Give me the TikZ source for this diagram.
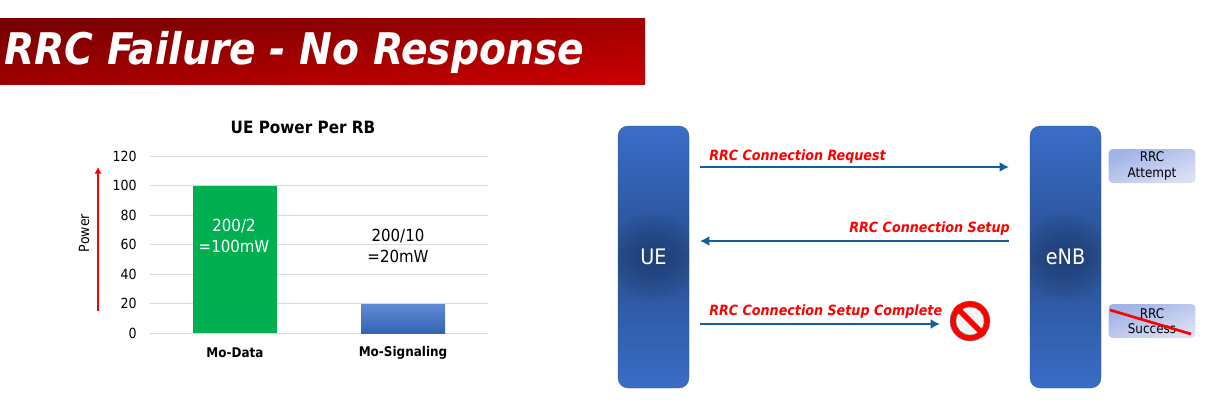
\documentclass[tikz,border=0pt]{standalone}
\usepackage{fontspec}
\setmainfont{DejaVu Sans Condensed}
\usetikzlibrary{arrows.meta}
\definecolor{barblue}{RGB}{58,109,200}
\definecolor{barmid}{RGB}{41,80,145}
\definecolor{bardark}{RGB}{30,58,106}
\definecolor{msgblue}{RGB}{20,95,155}
\definecolor{gridgray}{RGB}{217,217,217}
\definecolor{chartgreen}{RGB}{0,176,80}
\definecolor{countleft}{RGB}{160,178,230}
\definecolor{countright}{RGB}{218,224,244}
\tikzset{
  entity/.style={rectangle, rounded corners=7.5pt, draw=bardark!90, very thin, top color=barblue, bottom color=barblue, middle color=barmid,
    path picture={\foreach \rad in {3,6,...,33} \fill[bardark, opacity=.08] (path picture bounding box.center) circle (\rad pt);},
    minimum width=53.25pt, minimum height=196.5pt, text=white, font=\fontsize{16}{16}\selectfont, inner sep=0pt},
  counter/.style={rectangle, rounded corners=3pt, top color=countleft, bottom color=countright, shading angle=21,
    minimum width=65pt, minimum height=25.5pt, font=\fontsize{10}{11.5}\selectfont, align=center, inner sep=0pt},
  msg/.style={draw=msgblue, line width=2pt, -{Latex[length=7pt,width=7.5pt]}},
  msglabel/.style={text=red, font=\fontsize{10.6}{10.6}\selectfont\bfseries\itshape, inner sep=0pt},
  tick/.style={font=\fontsize{10.5}{10.5}\selectfont, anchor=east, inner sep=0pt},
}
\begin{document}
\begin{tikzpicture}[x=0.75pt, y=-0.75pt]
\useasboundingbox (0,0) rectangle (1212,407);

% title
\shade[top color=red!47!black, bottom color=red!78!black, shading angle=6] (0,18) rectangle (645,84);
\node[text=white, anchor=west, inner sep=0pt, font=\fontsize{32.7}{32.7}\selectfont\itshape\bfseries] (title) at (4,52) {RRC Failure - No Response};

% chart
\node[font=\fontsize{12.7}{12.7}\selectfont\bfseries, inner sep=0pt] (charttitle) at (303,127) {UE Power Per RB};
\foreach \val/\ypos in {0/333,20/303.5,40/274,60/244.5,80/215,100/185.5,120/156} {
  \draw[gridgray, thin] (150,\ypos) -- (488,\ypos);
  \node[tick] (tick\val) at (137,\ypos) {\val};
}
\fill[chartgreen] (193,186) rectangle (277,333);
\shade[top color=barblue!80!white, bottom color=barblue!90!black] (361,304) rectangle (445,333);
\node[text=white, align=center, inner sep=0pt, font=\fontsize{12.5}{15.7}\selectfont] (valdata) at (234,235.5) {200/2\\=100mW};
\node[align=center, inner sep=0pt, font=\fontsize{12.5}{15.7}\selectfont] (valsig) at (398,246) {200/10\\=20mW};
\node[font=\fontsize{10}{10}\selectfont\bfseries, inner sep=0pt] (catdata) at (235,353) {Mo-Data};
\node[font=\fontsize{10}{10}\selectfont\bfseries, inner sep=0pt] (catsig) at (403,353) {Mo-Signaling};
\node[rotate=90, inner sep=0pt, font=\fontsize{10.5}{10.5}\selectfont] (power) at (84,233) {Power};
\coordinate (powlow) at (98,311);
\coordinate (powhigh) at (98,167);
\draw[red, line width=1.5pt, -{Latex[length=5pt,width=5.5pt]}] (powlow) -- (powhigh);

% flow
\node[entity] (ue) at (653.5,257) {UE};
\node[entity] (enb) at (1065.5,257) {eNB};
\node[counter] (attempt) at (1152,166) {RRC\\Attempt};
\node[counter] (success) at (1152,321) {RRC\\Success};
\coordinate (crossa) at (1110,310);
\coordinate (crossb) at (1191,334);
\draw[red, line width=2pt] (crossa) -- (crossb);

\coordinate (reqa) at (700,167);
\coordinate (reqb) at (1009,167);
\coordinate (seta) at (1009,241);
\coordinate (setb) at (700,241);
\coordinate (cmpa) at (700,324);
\coordinate (cmpb) at (940,324);
\draw[msg] (reqa) -- (reqb);
\draw[msg] (seta) -- (setb);
\draw[msg] (cmpa) -- (cmpb);
\node[msglabel, anchor=west] (reqtxt) at (709,156.5) {RRC Connection Request};
\node[msglabel, anchor=east] (settxt) at (1010,229) {RRC Connection Setup};
\node[msglabel, anchor=west] (cmptxt) at (709,311.5) {RRC Connection Setup Complete};

% stop sign
\node[circle, draw=gray, fill=red, thin, minimum size=30pt, inner sep=0pt] (stop) at (970,321) {};
\node[circle, draw=gray, fill=white!92!gray, thin, minimum size=21pt, inner sep=0pt] (stopin) at (stop) {};
\draw[red, line width=4pt] (stop.north west) -- (stop.south east);
\end{tikzpicture}
\end{document}
